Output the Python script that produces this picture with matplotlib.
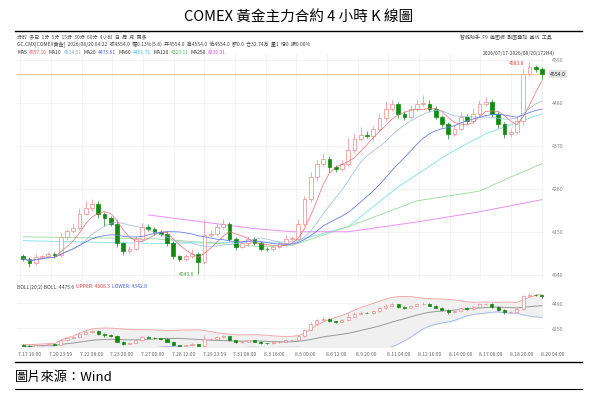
import matplotlib
matplotlib.use("Agg")
import matplotlib.pyplot as plt
import numpy as np
import pandas as pd

plt.rcParams['font.family'] = ['Noto Sans CJK TC', 'DejaVu Sans']

# 4h closes
closes = [4081, 4070, 4085, 4088, 4093, 4090, 4137, 4152, 4160, 4196,
          4210, 4221, 4196, 4185, 4170, 4120, 4101, 4107, 4132, 4163,
          4158, 4150, 4145, 4120, 4087, 4080, 4087, 4093, 4073, 4142,
          4145, 4163, 4170, 4132, 4112, 4120, 4132, 4120, 4107, 4105,
          4112, 4120, 4132, 4132, 4170, 4234, 4290, 4324, 4336, 4316,
          4311, 4324, 4360, 4388, 4397, 4395, 4413, 4440, 4465, 4477,
          4452, 4444, 4465, 4477, 4477, 4465, 4444, 4426, 4401, 4413,
          4444, 4434, 4452, 4477, 4482, 4452, 4426, 4401, 4406, 4434,
          4554, 4572, 4567, 4554]
first_open = 4088
wick_up = [6, 4, 8, 3, 5, 4, 10, 6, 12, 14, 18, 12, 8, 5, 6, 10, 4, 6, 8, 10,
           6, 5, 4, 8, 6, 3, 5, 14, 4, 40, 10, 6, 12, 5, 4, 6, 8, 4, 5, 3,
           4, 6, 10, 8, 12, 8, 14, 10, 16, 8, 6, 10, 30, 14, 20, 10, 8, 12, 20, 10,
           6, 8, 10, 14, 24, 10, 8, 6, 5, 10, 12, 8, 16, 10, 12, 8, 6, 5, 8, 10,
           12, 12, 6, 4]
wick_dn = [6, 10, 4, 5, 4, 6, 4, 8, 5, 6, 4, 6, 10, 20, 5, 8, 10, 6, 4, 5,
           6, 8, 5, 6, 8, 6, 4, 5, 30, 6, 5, 4, 6, 5, 8, 4, 6, 5, 6, 4,
           5, 4, 6, 5, 4, 6, 8, 10, 6, 12, 8, 6, 5, 8, 6, 5, 10, 8, 6, 5,
           10, 8, 6, 5, 6, 8, 6, 8, 14, 6, 5, 8, 6, 5, 6, 8, 10, 12, 8, 6,
           10, 6, 8, 12]

ma60_idx = [0, 21, 43, 52, 60, 68, 74, 83]
ma60_val = [4127, 4120, 4124, 4163, 4265, 4349, 4401, 4452]
ma120_idx = [0, 21, 38, 43, 52, 63, 73, 78, 83]
ma120_val = [4137, 4132, 4112, 4115, 4163, 4229, 4254, 4290, 4324]
ma250_idx = [20, 37, 43, 52, 63, 73, 83]
ma250_val = [4193, 4158, 4150, 4150, 4175, 4201, 4232]

main_ticks = [4590, 4480, 4370, 4260, 4150, 4040]
boll_ticks = [4490, 4250]
date_labels = ["7.17 16:00", "7.20 23:59", "7.22 08:00", "7.23 20:00", "7.27 00:00",
               "7.28 12:00", "7.29 23:59", "7.31 08:00", "8.3 16:00", "8.5 00:00",
               "8.6 12:00", "8.9 20:00", "8.11 04:00", "8.12 16:00", "8.14 00:00",
               "8.17 08:00", "8.18 20:00", "8.20 04:00"]

c = np.array(closes, float)
o = np.concatenate([[first_open], c[:-1]])
hi = np.maximum(o, c) + np.array(wick_up)
lo = np.minimum(o, c) - np.array(wick_dn)
n = len(c)
x = np.arange(n)
s = pd.Series(c)

W, H = 597, 406
fig = plt.figure(figsize=(W / 100, H / 100), dpi=100)
renderer = fig.canvas.get_renderer()


def box(l, t, r, b):
    return [l / W, 1 - b / H, (r - l) / W, (b - t) / H]


def text_run(x0, y, parts, size=3.6, gap=2):
    # place coloured pieces one after another on a line
    xp = x0
    for t, col in parts:
        tx = fig.text(xp / W, 1 - y / H, t, fontsize=size, color=col, va="center")
        ext = tx.get_window_extent(renderer)
        xp = ext.x1 + gap


UP = "#f08a8a"
DN = "#118a11"


def candles(ax, width):
    for i in range(n):
        up = c[i] >= o[i]
        col = UP if up else DN
        ax.vlines(x[i], lo[i], hi[i], color=col, lw=0.5, zorder=3)
        b0, b1 = min(o[i], c[i]), max(o[i], c[i])
        ax.add_patch(plt.Rectangle((x[i] - width / 2, b0), width, max(b1 - b0, 1.5),
                                   facecolor="white" if up else DN, edgecolor=col,
                                   lw=0.5, zorder=4))


def style(ax):
    ax.set_xlim(-1, n - 0.5)
    for sp in ax.spines.values():
        sp.set_visible(False)
    ax.set_xticks([])
    ax.set_yticks([])


# title and frame lines
fig.text(0.5, 1 - 18 / H, "COMEX 黃金主力合約 4 小時 K 線圖", ha="center", va="center", fontsize=10.5)
fig.add_artist(plt.Line2D([15 / W, 582 / W], [1 - 32 / H] * 2, color="black", lw=1))
fig.add_artist(plt.Line2D([15 / W, 582 / W], [1 - 363 / H] * 2, color="black", lw=1))
fig.add_artist(plt.Line2D([15 / W, 582 / W], [1 - 390 / H] * 2, color="black", lw=0.8))
fig.text(15 / W, 1 - 377 / H, "圖片來源：Wind", ha="left", va="center", fontsize=9.5)

# toolbar texts
fig.text(17 / W, 1 - 38 / H, "分时  多日  1分  5分  15分  30分  60分  4小时  日  周  月  更多",
         fontsize=3.6, color="#555555", va="center")
fig.text(460 / W, 1 - 38 / H, "智能助手  F9  画图板  副图叠加  画线  工具", fontsize=3.6,
         color="#555555", va="center")
fig.text(17 / W, 1 - 45 / H, "GC.CMX[COMEX黄金]  2026/08/20 04:22  收4554.0  幅0.13%(5.8)  开4554.0  高4554.0  "
         "低4554.0  额0.0  仓32.74万  量1  增0  振0.00%", fontsize=3.6, color="#444444", va="center")
ma_txt = [("MA5", "#333333"), ("4557.16", "#e8545c"), ("MA10", "#333333"), ("4514.51", "#7aa5d8"),
          ("MA20", "#333333"), ("4475.61", "#4a5ee0"), ("MA60", "#333333"), ("4451.71", "#3fc3d8"),
          ("MA120", "#333333"), ("4323.11", "#4cb84c"), ("MA250", "#333333"), ("4230.01", "#d050e0")]
text_run(17, 53, ma_txt)
fig.text(483 / W, 1 - 53 / H, "2026/07/17-2026/08/20(172H4)", fontsize=3.6, color="#444444", va="center")

# main panel
ax = fig.add_axes(box(17, 55, 545, 280))
ax.set_ylim(4029, 4605)
style(ax)
for t in main_ticks:
    ax.axhline(t, color="#eeeeee", lw=0.5, zorder=0)
    fig.text(552 / W, 1 - (55 + (4605 - t) / 576 * 225) / H, str(t), fontsize=3.8,
             color="#888888", va="center")
for k in range(len(date_labels)):
    ax.axvline(k * (n - 0.5) / (len(date_labels) - 1) - 0.5, color="#eeeeee", lw=0.5, zorder=0)
ax.axhline(4554, color="#f7c89a", lw=0.8, zorder=1)
candles(ax, 0.6)
ax.plot(x, s.rolling(5, min_periods=1).mean(), color="#ec6a70", lw=0.5, zorder=5)
ax.plot(x, s.rolling(10, min_periods=1).mean(), color="#9ab8e0", lw=0.5, zorder=5)
ax.plot(x, s.rolling(20, min_periods=1).mean(), color="#6a7ee8", lw=0.6, zorder=5)
ax.plot(ma60_idx, ma60_val, color="#7fe0e8", lw=0.6, zorder=2)
ax.plot(ma120_idx, ma120_val, color="#9ad89a", lw=0.6, zorder=2)
ax.plot(ma250_idx, ma250_val, color="#e890f0", lw=0.7, zorder=2)
imax = int(np.argmax(hi))
ax.text(imax - 0.8, hi[imax], "4583.8", color="#e04040", fontsize=3.6, ha="right", va="center")
imin = int(np.argmin(lo))
ax.text(imin - 0.6, lo[imin], "4043.6", color="#40a040", fontsize=3.6, ha="right", va="center")
fig.text(550 / W, 1 - 75 / H, "4554.0", fontsize=3.8, color="#333333", va="center",
         bbox=dict(facecolor="#e4e4e4", edgecolor="none", pad=1))

# bollinger panel
text_run(17, 287, [("BOLL(20,2) BOLL: 4475.6", "#444444"), ("UPPER: 4608.3", "#e04040"),
                   ("LOWER: 4342.8", "#4060e0")])
bx = fig.add_axes(box(17, 293, 545, 348))
bx.set_ylim(4068, 4596)
style(bx)
for t in boll_ticks:
    bx.axhline(t, color="#eeeeee", lw=0.5, zorder=0)
    fig.text(552 / W, 1 - (293 + (4596 - t) / 528 * 55) / H, str(t), fontsize=3.8,
             color="#888888", va="center")
mid = s.rolling(20, min_periods=2).mean().bfill()
sd = s.rolling(20, min_periods=2).std().bfill()
bx.fill_between(x, mid - 2 * sd, mid + 2 * sd, color="#f0f0f0", zorder=1)
bx.plot(x, mid + 2 * sd, color="#f0a0a0", lw=0.6, zorder=2)
bx.plot(x, mid - 2 * sd, color="#a0b4f0", lw=0.6, zorder=2)
bx.plot(x, mid, color="#999999", lw=0.7, zorder=2)
candles(bx, 0.5)

for k, lab in enumerate(date_labels):
    px = 18 + k * (541 - 18) / (len(date_labels) - 1)
    fig.text(px / W, 1 - 354 / H, lab, fontsize=3.6, color="#666666", ha="left", va="center")

fig.savefig("out.png", dpi=100)
